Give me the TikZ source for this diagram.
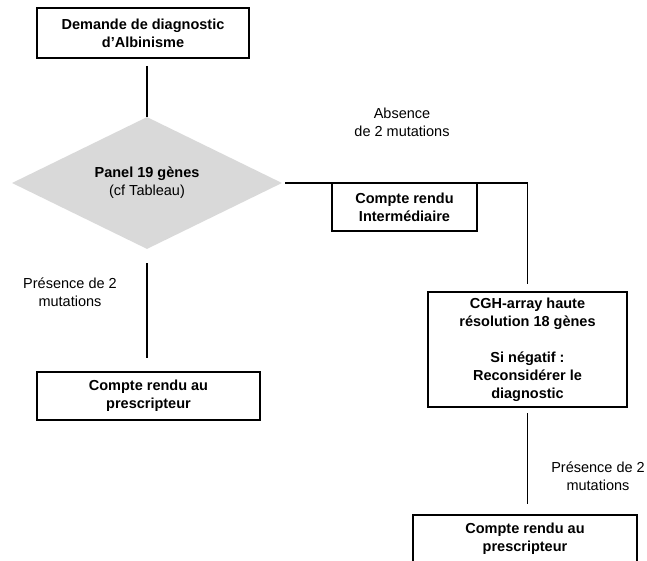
\documentclass[tikz,border=0pt]{standalone}
\usepackage{fontspec}
\setmainfont{Liberation Sans}
\usepackage{xcolor}
\usepackage{tikz}
\usetikzlibrary{shapes.geometric}

\begin{document}
\begin{tikzpicture}[x=1pt,y=-1pt,font=\fontsize{14.5}{18}\selectfont,
  box/.style={rectangle,draw,line width=2pt,fill=white,align=center,inner sep=0pt,font=\fontsize{14.5}{18}\selectfont\bfseries},
  lab/.style={align=center},
  link/.style={line width=1.5pt}]
\useasboundingbox (0,0) rectangle (647,561);
\path (143,33) node(demande) [box,minimum width=212,minimum height=50] {Demande de diagnostic\\d’Albinisme}
(147,183) node(panel) [diamond,aspect=2,fill=gray!30,inner sep=0pt,minimum width=270,minimum height=132,align=center] {\textbf{Panel 19 gènes}\\(cf Tableau)}
(148.5,396) node(presc1) [box,minimum width=223,minimum height=48] {Compte rendu au\\prescripteur}
(527.5,349.5) node(cgh) [box,minimum width=199,minimum height=115] {CGH-array haute\\résolution 18 gènes\\[18pt]Si négatif :\\Reconsidérer le\\diagnostic}
(525,539) node(presc2) [box,minimum width=224,minimum height=48] {Compte rendu au\\prescripteur};
\draw[link,shorten <=7pt] (panel.north |- demande.south) -- (panel.north);
\draw[link,shorten <=3pt,shorten >=7pt] (panel.east) -| (cgh.north);
\draw[link,shorten <=14pt,shorten >=13pt] (panel.south) -- (panel.south |- presc1.north);
\draw[link,shorten <=5pt,shorten >=10pt] (cgh.south) -- (cgh.south |- presc2.north);
\path (404.5,207) node(interm) [box,minimum width=145,minimum height=48] {Compte rendu\\Intermédiaire}
(402,122) node(absence) [lab] {Absence\\de 2 mutations}
(70,292) node(presence1) [lab] {Présence de 2\\mutations}
(598,476) node(presence2) [lab] {Présence de 2\\mutations};
\end{tikzpicture}
\end{document}
